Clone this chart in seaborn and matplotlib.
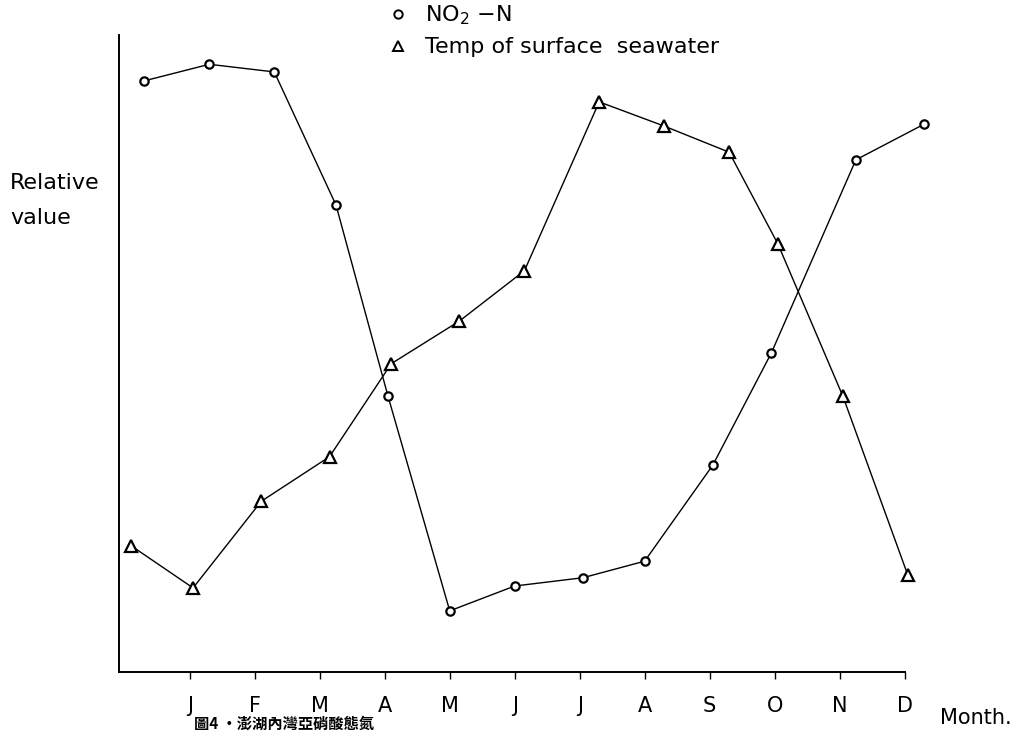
import matplotlib
matplotlib.use("Agg")
import matplotlib.pyplot as plt
from matplotlib.lines import Line2D
import seaborn as sns
import pandas as pd

# ---- data (x in month units, y relative value 0-100) ----
month_labels = ["J", "F", "M", "A", "M", "J", "J", "A", "S", "O", "N", "D"]
month_ticks = [1, 2, 3, 4, 5, 6, 7, 8, 9, 10, 11, 12]

no2_x = [0.3, 1.3, 2.3, 3.25, 4.05, 5.0, 6.0, 7.05, 8.0, 9.05, 9.95, 11.25, 12.3]
no2_y = [92.8, 95.4, 94.2, 73.3, 43.3, 9.6, 13.5, 14.8, 17.4, 32.5, 50.1, 80.4, 86.0]

temp_x = [0.1, 1.05, 2.1, 3.15, 4.1, 5.15, 6.15, 7.3, 8.3, 9.3, 10.05, 11.05, 12.05]
temp_y = [19.8, 13.2, 26.8, 33.8, 48.4, 55.1, 63.0, 89.5, 85.7, 81.6, 67.2, 43.3, 15.2]

no2_label = "NO$_2$ $-$N"
temp_label = "Temp of surface  seawater"

df_no2 = pd.DataFrame({"month": no2_x, "value": no2_y})
df_temp = pd.DataFrame({"month": temp_x, "value": temp_y})

sns.set_theme(style="white")
plt.rcParams["font.family"] = ["DejaVu Sans", "Noto Sans CJK TC"]
plt.rcParams["mathtext.fontset"] = "dejavusans"

fig = plt.figure(figsize=(10.31, 7.35), dpi=100)
ax = fig.add_axes([0.1154, 0.0857, 0.762, 0.8667])

common = dict(color="black", linewidth=1.0, markersize=6, markeredgewidth=1.6,
              markeredgecolor="black", markerfacecolor="white", clip_on=False,
              legend=False)
sns.lineplot(data=df_no2, x="month", y="value", marker="o", ax=ax,
             sort=False, **common)
sns.lineplot(data=df_temp, x="month", y="value", marker="^", ax=ax,
             sort=False, **{**common, "markersize": 8})

ax.set_xlim(-0.09, 12.0)
ax.set_ylim(0, 100)
ax.set_xticks(month_ticks)
ax.set_xticklabels(month_labels, fontsize=15)
ax.set_yticks([])
ax.set_xlabel("")
ax.set_ylabel("")
for s in ["top", "right"]:
    ax.spines[s].set_visible(False)
for s in ["left", "bottom"]:
    ax.spines[s].set_color("black")
    ax.spines[s].set_linewidth(1.4)
ax.tick_params(axis="x", bottom=True, length=5, width=1, color="black",
               pad=12, labelcolor="black")
ax.set_facecolor("white")
ax.patch.set_alpha(0)

# legend
handles = [
    Line2D([], [], linestyle="none", marker="o", markersize=6, markeredgewidth=1.4,
           markeredgecolor="black", markerfacecolor="white"),
    Line2D([], [], linestyle="none", marker="^", markersize=7, markeredgewidth=1.4,
           markeredgecolor="black", markerfacecolor="white"),
]
fig.legend(handles, [no2_label, temp_label], loc="upper left",
           bbox_to_anchor=(0.356, 1.022), frameon=False, fontsize=16,
           handlelength=1.0, handletextpad=0.7, labelspacing=0.45,
           labelcolor="black")

fig.text(0.010, 0.727, "Relative\nvalue", fontsize=16, color="black",
         ha="left", va="center", linespacing=1.9)
fig.text(0.946, 0.023, "Month.", fontsize=15, color="black", ha="center",
         va="center")
fig.text(0.188, 0.004, "圖4 ・澎湖內灣亞硝酸態氮", fontsize=11, color="black",
         ha="left", va="bottom", fontweight="bold",
         family=["Noto Sans CJK TC", "DejaVu Sans"])

fig.savefig("out.png", dpi=100, facecolor="white")
